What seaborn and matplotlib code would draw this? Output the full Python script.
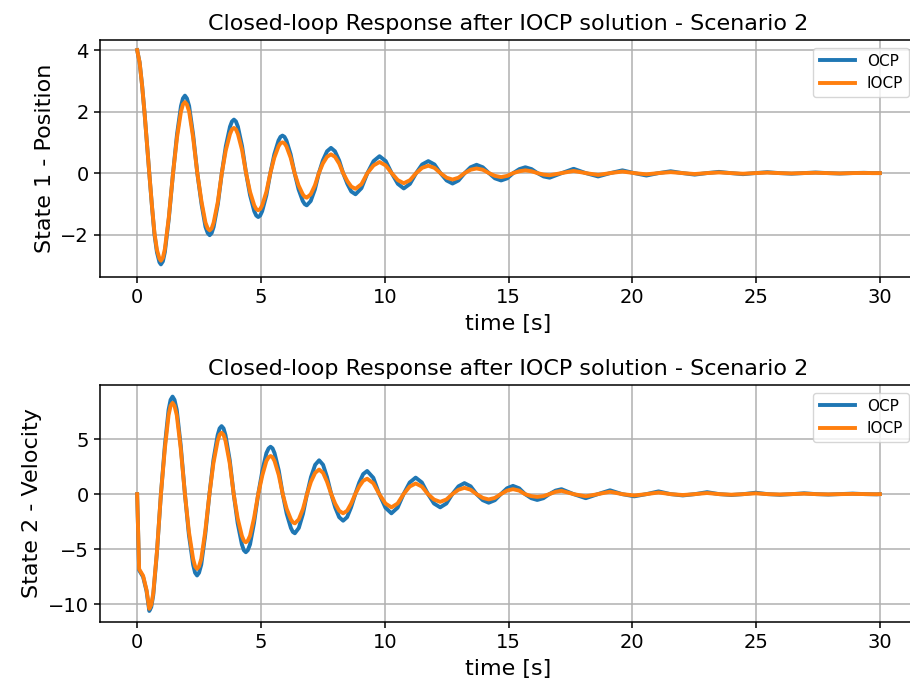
import matplotlib
matplotlib.use("Agg")
import matplotlib.pyplot as plt
import numpy as np
import seaborn as sns
import pandas as pd

# values
t_pos = [0.0, 0.1, 0.2, 0.3, 0.4, 0.49, 0.6, 0.7, 0.8, 0.9, 0.96,
         1.04, 1.12, 1.28, 1.45, 1.61, 1.77, 1.85, 1.93,
         2.01, 2.10, 2.26, 2.43, 2.60, 2.76, 2.85, 2.93,
         3.01, 3.09, 3.26, 3.42, 3.58, 3.75, 3.83, 3.91,
         3.99, 4.07, 4.24, 4.40, 4.56, 4.73, 4.81, 4.89,
         4.97, 5.05, 5.22, 5.38, 5.54, 5.71, 5.79, 5.87,
         5.95, 6.03, 6.20, 6.36, 6.52, 6.69, 6.77, 6.85,
         7.01, 7.18, 7.34, 7.50, 7.67, 7.83,
         7.99, 8.16, 8.32, 8.49, 8.65, 8.82,
         9.06, 9.30, 9.55, 9.79,
         10.04, 10.28, 10.53, 10.77,
         11.02, 11.27, 11.51, 11.76,
         12.01, 12.25, 12.50, 12.74,
         12.98, 13.23, 13.47, 13.71,
         13.96, 14.21, 14.45, 14.70,
         14.95, 15.19, 15.44, 15.68,
         15.93, 16.17, 16.42, 16.66,
         17.15, 17.63, 18.12, 18.62, 19.11, 19.60, 20.08, 20.57, 21.06, 21.55,
         22.03, 22.52, 23.01, 23.50, 23.98, 24.47, 24.96, 25.45, 25.94, 26.43,
         26.91, 27.40, 27.89, 28.38, 28.87, 29.36, 29.68, 30.0]

pos_ocp = [4.0, 3.6, 2.85, 1.95, 0.9, 0.0, -1.1, -2.0, -2.58, -2.9, -2.97,
           -2.87, -2.57, -1.48, 0.0, 1.26, 2.18, 2.43, 2.52,
           2.43, 2.18, 1.26, 0.0, -1.01, -1.75, -1.95, -2.02,
           -1.95, -1.75, -1.01, 0.0, 0.87, 1.51, 1.68, 1.74,
           1.68, 1.51, 0.87, 0.0, -0.72, -1.24, -1.38, -1.43,
           -1.38, -1.24, -0.72, 0.0, 0.61, 1.06, 1.18, 1.22,
           1.18, 1.06, 0.61, 0.0, -0.53, -0.91, -1.01, -1.05,
           -0.91, -0.53, 0.0, 0.41, 0.71, 0.82,
           0.71, 0.41, 0.0, -0.35, -0.60, -0.69,
           -0.49, 0.0, 0.39, 0.55,
           0.39, 0.0, -0.35, -0.50,
           -0.35, 0.0, 0.28, 0.39,
           0.28, 0.0, -0.24, -0.34,
           -0.24, 0.0, 0.19, 0.27,
           0.19, 0.0, -0.17, -0.24,
           -0.17, 0.0, 0.13, 0.19,
           0.13, 0.0, -0.11, -0.15,
           0.0, 0.14, 0.0, -0.11, 0.0, 0.09, 0.0, -0.08, 0.0, 0.06,
           0.0, -0.05, 0.0, 0.04, 0.0, -0.035, 0.0, 0.03, 0.0, -0.02,
           0.0, 0.02, 0.0, -0.015, 0.0, 0.01, 0.0, 0.0]

pos_iocp = [4.0, 3.6, 2.85, 1.95, 0.9, 0.0, -1.08, -1.95, -2.5, -2.78, -2.85,
            -2.75, -2.47, -1.43, 0.0, 1.16, 2.0, 2.23, 2.31,
            2.23, 2.0, 1.16, 0.0, -0.93, -1.61, -1.80, -1.86,
            -1.80, -1.61, -0.93, 0.0, 0.74, 1.27, 1.42, 1.47,
            1.42, 1.27, 0.74, 0.0, -0.61, -1.05, -1.17, -1.21,
            -1.17, -1.05, -0.61, 0.0, 0.5, 0.87, 0.97, 1.0,
            0.97, 0.87, 0.5, 0.0, -0.4, -0.69, -0.77, -0.8,
            -0.69, -0.4, 0.0, 0.31, 0.53, 0.61,
            0.53, 0.31, 0.0, -0.26, -0.44, -0.51,
            -0.36, 0.0, 0.25, 0.36,
            0.25, 0.0, -0.23, -0.33,
            -0.23, 0.0, 0.17, 0.24,
            0.17, 0.0, -0.15, -0.21,
            -0.15, 0.0, 0.11, 0.15,
            0.11, 0.0, -0.09, -0.13,
            -0.09, 0.0, 0.06, 0.09,
            0.06, 0.0, -0.05, -0.07,
            0.0, 0.07, 0.0, -0.06, 0.0, 0.05, 0.0, -0.04, 0.0, 0.03,
            0.0, -0.03, 0.0, 0.02, 0.0, -0.02, 0.0, 0.015, 0.0, -0.01,
            0.0, 0.01, 0.0, -0.01, 0.0, 0.005, 0.0, 0.0]

t_vel = [0.0, 0.08, 0.24, 0.38, 0.49,
         0.57, 0.65, 0.80, 0.96, 1.12, 1.27, 1.35, 1.43,
         1.51, 1.60, 1.76, 1.93, 2.09, 2.26, 2.34, 2.42,
         2.50, 2.59, 2.75, 2.92, 3.08, 3.25, 3.33, 3.41,
         3.49, 3.57, 3.74, 3.90, 4.06, 4.23, 4.31, 4.39,
         4.47, 4.56, 4.72, 4.89, 5.06, 5.22, 5.31, 5.39,
         5.47, 5.55, 5.72, 5.88, 6.04, 6.21, 6.29, 6.37,
         6.53, 6.70, 6.86, 7.02, 7.19, 7.35,
         7.51, 7.67, 7.84, 8.00, 8.16, 8.32,
         8.48, 8.64, 8.81, 8.97, 9.13, 9.29,
         9.54, 9.78, 10.03, 10.27,
         10.52, 10.76, 11.01, 11.25,
         11.50, 11.75, 11.99, 12.24,
         12.49, 12.73, 12.98, 13.22,
         13.47, 13.71, 13.96, 14.20,
         14.45, 14.69, 14.94, 15.18,
         15.43, 15.67, 15.92, 16.16,
         16.41, 16.65, 16.90, 17.14,
         17.63, 18.12, 18.61, 19.10, 19.59, 20.08, 20.57, 21.06, 21.55, 22.04,
         22.53, 23.02, 23.51, 24.00, 24.49, 24.98, 25.47, 25.96, 26.45, 26.94,
         27.43, 27.92, 28.41, 28.90, 29.39, 29.88, 30.0]

vel_ocp = [0.0, -6.9, -7.5, -8.8, -10.6,
           -10.24, -9.18, -5.3, 0.0, 4.43, 7.66, 8.55, 8.85,
           8.55, 7.66, 4.43, 0.0, -3.69, -6.39, -7.13, -7.38,
           -7.13, -6.39, -3.69, 0.0, 3.09, 5.34, 5.96, 6.17,
           5.96, 5.34, 3.09, 0.0, -2.64, -4.56, -5.09, -5.27,
           -5.09, -4.56, -2.64, 0.0, 2.15, 3.72, 4.15, 4.30,
           4.15, 3.72, 2.15, 0.0, -1.78, -3.07, -3.43, -3.55,
           -3.07, -1.78, 0.0, 1.54, 2.66, 3.07,
           2.66, 1.54, 0.0, -1.21, -2.09, -2.41,
           -2.09, -1.21, 0.0, 1.05, 1.82, 2.1,
           1.48, 0.0, -1.23, -1.74,
           -1.23, 0.0, 1.06, 1.5,
           1.06, 0.0, -0.85, -1.2,
           -0.85, 0.0, 0.71, 1.0,
           0.71, 0.0, -0.55, -0.78,
           -0.55, 0.0, 0.53, 0.75,
           0.53, 0.0, -0.37, -0.53,
           -0.37, 0.0, 0.32, 0.45,
           0.0, -0.37, 0.0, 0.35, 0.0, -0.2, 0.0, 0.25, 0.0, -0.12,
           0.0, 0.18, 0.0, -0.08, 0.0, 0.13, 0.0, -0.06, 0.0, 0.08,
           0.0, -0.04, 0.0, 0.05, 0.0, -0.02, 0.0]

vel_iocp = [0.0, -6.8, -7.4, -8.7, -10.4,
            -10.05, -9.0, -5.2, 0.0, 4.14, 7.17, 8.0, 8.28,
            8.0, 7.17, 4.14, 0.0, -3.39, -5.87, -6.55, -6.78,
            -6.55, -5.87, -3.39, 0.0, 2.79, 4.82, 5.38, 5.57,
            5.38, 4.82, 2.79, 0.0, -2.19, -3.78, -4.22, -4.37,
            -4.22, -3.78, -2.19, 0.0, 1.73, 3.0, 3.34, 3.46,
            3.34, 3.0, 1.73, 0.0, -1.33, -2.29, -2.56, -2.65,
            -2.29, -1.33, 0.0, 1.12, 1.93, 2.23,
            1.93, 1.12, 0.0, -0.87, -1.51, -1.74,
            -1.51, -0.87, 0.0, 0.70, 1.21, 1.4,
            0.99, 0.0, -0.85, -1.2,
            -0.85, 0.0, 0.69, 0.97,
            0.69, 0.0, -0.49, -0.70,
            -0.49, 0.0, 0.40, 0.57,
            0.40, 0.0, -0.34, -0.48,
            -0.34, 0.0, 0.32, 0.45,
            0.32, 0.0, -0.18, -0.25,
            -0.18, 0.0, 0.21, 0.30,
            0.0, -0.2, 0.0, 0.22, 0.0, -0.12, 0.0, 0.15, 0.0, -0.08,
            0.0, 0.1, 0.0, -0.05, 0.0, 0.07, 0.0, -0.03, 0.0, 0.04,
            0.0, -0.02, 0.0, 0.02, 0.0, -0.01, 0.0]

title = 'Closed-loop Response after IOCP solution - Scenario 2'
colors = ['#1f77b4', '#ff7f0e']

plt.rcParams['font.family'] = ['DejaVu Sans']
plt.rcParams['axes.linewidth'] = 1.1

fig = plt.figure(figsize=(9.1, 6.87), dpi=100)
ax1 = fig.add_axes([0.1099, 0.5968, 0.8978, 0.345])
ax2 = fig.add_axes([0.1099, 0.0946, 0.8978, 0.345])

panels = [
    (ax1, t_pos, pos_ocp, pos_iocp, 'State 1 - Position', (-3.38, 4.33), [-2, 0, 2, 4]),
    (ax2, t_vel, vel_ocp, vel_iocp, 'State 2 - Velocity', (-11.6, 9.9), [-10, -5, 0, 5]),
]

for ax, t, y_ocp, y_iocp, ylab, ylim, yticks in panels:
    sns.lineplot(x=t, y=y_ocp, ax=ax, color=colors[0], linewidth=2.8, label='OCP', sort=False)
    sns.lineplot(x=t, y=y_iocp, ax=ax, color=colors[1], linewidth=2.8, label='IOCP', sort=False)
    ax.set_xlim(-1.5, 31.5)
    ax.set_ylim(*ylim)
    ax.set_xticks([0, 5, 10, 15, 20, 25, 30])
    ax.set_yticks(yticks)
    ax.grid(True, color='#b0b0b0', linewidth=1.1)
    ax.set_axisbelow(True)
    ax.set_title(title, fontsize=16, pad=7)
    ax.set_xlabel('time [s]', fontsize=16, labelpad=5)
    ax.set_ylabel(ylab, fontsize=16)
    ax.tick_params(labelsize=14, width=1.1, length=4.5)
    ax.legend(loc='upper right', fontsize=11, handlelength=2.3)

fig.savefig('out.png', dpi=100)
